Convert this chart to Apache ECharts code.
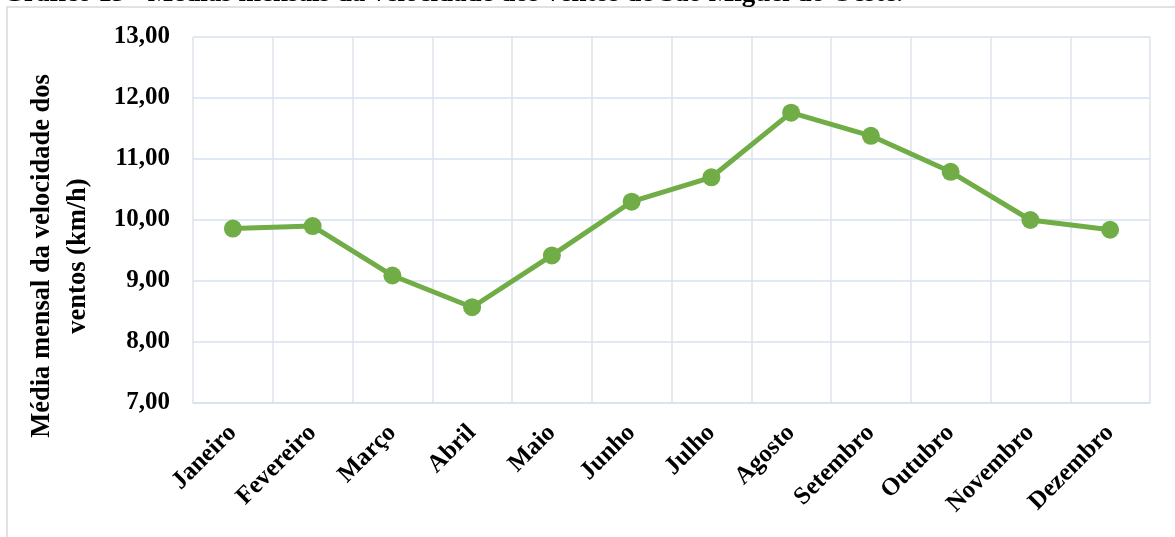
<!DOCTYPE html>
<html lang="pt">

<head>
    <meta charset="UTF-8">
    <title>Velocidade dos ventos</title>
    <script src="https://cdnjs.cloudflare.com/ajax/libs/echarts/6.0.0/echarts.min.js"></script>
    <style>
        html, body { margin: 0; padding: 0; background: #fff; }
        #main { width: 1175px; height: 537px; }
    </style>
</head>

<body>
    <div id="main"></div>

    <script>
        const meses = ["Janeiro", "Fevereiro", "Março", "Abril", "Maio", "Junho",
            "Julho", "Agosto", "Setembro", "Outubro", "Novembro", "Dezembro"];
        const velocidade = [9.86, 9.90, 9.09, 8.57, 9.42, 10.30, 10.70, 11.76, 11.38, 10.79, 10.00, 9.84];
        const yMin = 7, yMax = 13, yPasso = 1;

        const fonte = '"Liberation Serif", "Times New Roman", serif';
        const chart = echarts.init(document.getElementById('main'));

        const option = {
            animation: false,
            graphic: [
                {
                    type: 'rect',
                    shape: { x: 7, y: 7, width: 1190, height: 560 },
                    style: { fill: 'none', stroke: '#d9d9d9', lineWidth: 1.5 }
                },
                {
                    type: 'text',
                    left: 3,
                    top: -19,
                    style: {
                        text: 'Gráfico 13 - Médias mensais da velocidade dos ventos de São Miguel do Oeste.',
                        font: 'bold 27px ' + fonte,
                        fill: '#000'
                    }
                }
            ],
            grid: { left: 193, right: 25, top: 37, bottom: 134, outerBoundsMode: 'none' },
            xAxis: {
                type: 'category',
                data: meses,
                boundaryGap: true,
                axisLine: { show: true, lineStyle: { color: '#d9e1ea', width: 1.5 } },
                axisTick: { show: false },
                splitLine: { show: true, lineStyle: { color: '#dde3ec', width: 1.5 } },
                axisLabel: {
                    rotate: 45,
                    interval: 0,
                    margin: 26,
                    color: '#000',
                    fontFamily: fonte,
                    fontWeight: 'bold',
                    fontSize: 25
                }
            },
            yAxis: {
                type: 'value',
                min: yMin,
                max: yMax,
                interval: yPasso,
                name: 'Média mensal da velocidade dos\nventos (km/h)',
                nameLocation: 'middle',
                nameGap: 97,
                nameTextStyle: {
                    color: '#000',
                    fontFamily: fonte,
                    fontWeight: 'bold',
                    fontSize: 26.5,
                    lineHeight: 36,
                    padding: [0, 72, 0, 0]
                },
                axisLine: { show: false },
                axisTick: { show: false },
                splitLine: { lineStyle: { color: '#d5e1f0', width: 1.5 } },
                axisLabel: {
                    margin: 23,
                    color: '#000',
                    fontFamily: fonte,
                    fontWeight: 'bold',
                    fontSize: 25,
                    formatter: (v) => v.toFixed(2).replace('.', ',')
                }
            },
            series: [
                {
                    name: 'Velocidade',
                    type: 'line',
                    data: velocidade,
                    symbol: 'circle',
                    symbolSize: 18,
                    lineStyle: { color: '#70ad47', width: 5 },
                    itemStyle: { color: '#70ad47' }
                }
            ]
        };

        chart.setOption(option);
    </script>
</body>

</html>
